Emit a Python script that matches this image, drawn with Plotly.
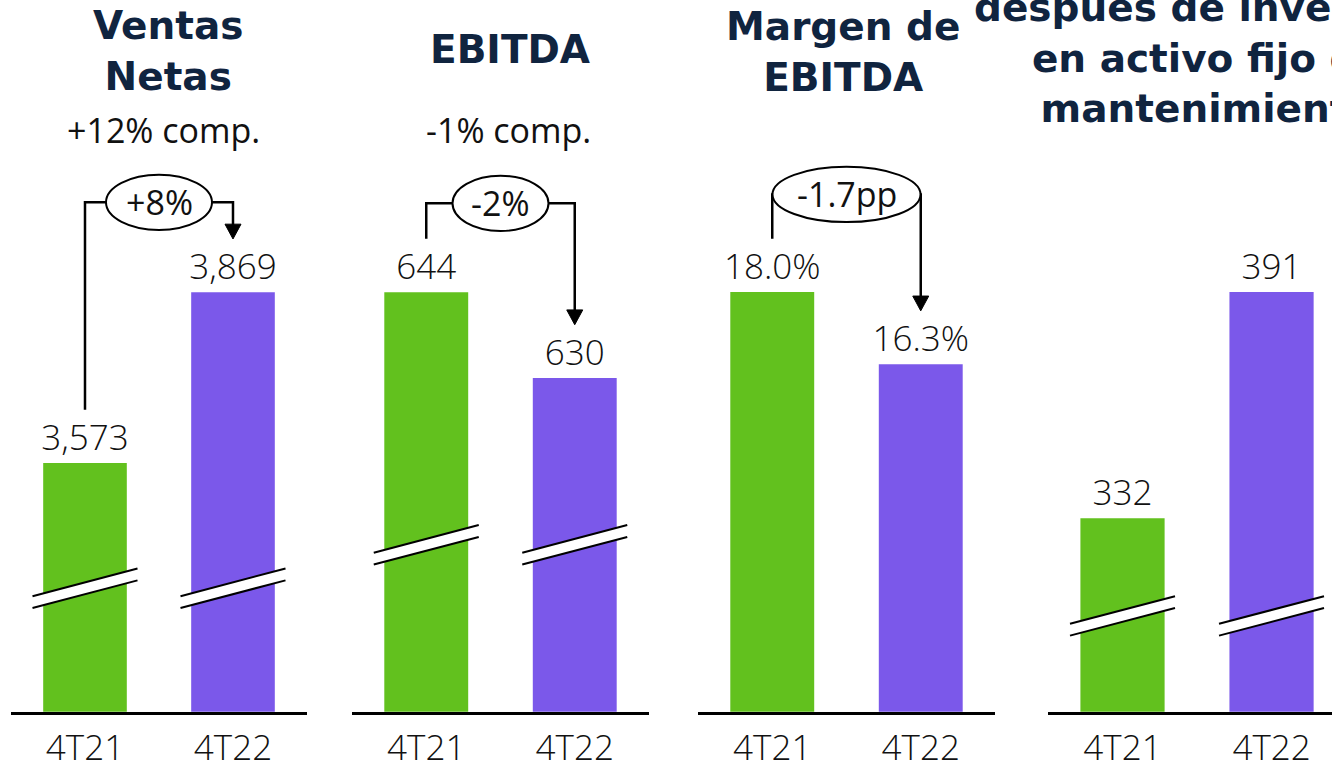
import plotly.graph_objects as go

# ---------------- data ----------------
periods = ["4T21", "4T22"]
titles = [
    "Ventas<br>Netas",
    "EBITDA",
    "Margen de<br>EBITDA",
    "después de inversión<br>en activo fijo de<br>mantenimiento",
]
subtitles = ["+12% comp.", "-1% comp.", "", ""]
ventas = [3573, 3869]
ebitda = [644, 630]
margen = [18.0, 16.3]
flujo = [332, 391]
changes = ["+8%", "-2%", "-1.7pp", None]

series = [ventas, ebitda, margen, flujo]
fmt = [lambda v: f"{v:,.0f}", lambda v: f"{v:,.0f}", lambda v: f"{v:.1f}%", lambda v: f"{v:,.0f}"]

# ---------------- style / layout ----------------
W, H = 1332, 770
GREEN = "#62C11E"
PURPLE = "#7B58EA"
NAVY = "#10243F"
TXT_FONT = "Open Sans"
TITLE_FONT = "DejaVu Sans"

panel_px = [(11, 307), (352, 649), (698, 995), (1048, 1332)]
x_ranges = [[-0.5, 1.5], [-0.5, 1.5], [-0.5, 1.5], [-0.5, 1.5 - 14 / 148.5]]
y_ranges = [[3142, 4119], [575.6, 667.5], [8.10, 21.40], [281.5, 428.6]]
PLOT_TOP, BASE = 150, 721

title_pos = [(168, 51.5), (510, 50), (843, 53), (1208, 59)]
sub_pos = [(163.5, 132), (508, 132), None, None]
bracket = [(205, 53), (206, 48), (197, 74), None]   # (top y px, ellipse half width)
breaks_y = [596, 552, None, 624]


def xpx(i, c):
    l, r = panel_px[i]
    a, b = x_ranges[i]
    return l + (c - a) / (b - a) * (r - l)


def ypx(i, v):
    a, b = y_ranges[i]
    return BASE - (v - a) / (b - a) * (BASE - PLOT_TOP)


def P(xp, yp):
    return f"{xp / W:.5f},{1 - yp / H:.5f}"


fig = go.Figure()
layout_axes = {}
shapes = []
annotations = []

for i in range(4):
    xa = "x" if i == 0 else f"x{i + 1}"
    ya = "y" if i == 0 else f"y{i + 1}"
    vals = series[i]
    fig.add_trace(go.Bar(
        x=[0, 1], y=vals, xaxis=xa, yaxis=ya,
        marker=dict(color=[GREEN, PURPLE], line=dict(width=0)),
        width=0.565,
        text=[fmt[i](v) for v in vals],
        textposition="outside", constraintext="none",
        textfont=dict(family=TXT_FONT, size=35, color="#111111", weight=300),
        showlegend=False, hoverinfo="skip",
    ))
    l, r = panel_px[i]
    layout_axes["xaxis" if i == 0 else f"xaxis{i + 1}"] = dict(
        domain=[l / W, r / W], range=x_ranges[i], anchor=ya,
        tickvals=[0, 1], ticktext=periods, showgrid=False, zeroline=False,
        showline=True, linecolor="black", linewidth=3, ticks="",
        ticklabelstandoff=3,
        tickfont=dict(family=TXT_FONT, size=35, color="#111111", weight=300),
        fixedrange=True,
    )
    layout_axes["yaxis" if i == 0 else f"yaxis{i + 1}"] = dict(
        domain=[1 - BASE / H, 1 - PLOT_TOP / H], range=y_ranges[i], anchor=xa,
        visible=False, fixedrange=True,
    )

    # title
    tx, ty = title_pos[i]
    annotations.append(dict(
        text=titles[i], x=tx / W, y=1 - ty / H, xref="paper", yref="paper",
        xanchor="center", yanchor="middle", showarrow=False, align="center",
        font=dict(family=TITLE_FONT, size=39, color=NAVY, weight="bold"),
    ))
    if subtitles[i]:
        sx, sy = sub_pos[i]
        annotations.append(dict(
            text=subtitles[i], x=sx / W, y=1 - sy / H, xref="paper", yref="paper",
            xanchor="center", yanchor="middle", showarrow=False,
            font=dict(family=TXT_FONT, size=34, color="#111111"),
        ))

    # axis breaks
    if breaks_y[i] is not None:
        cy = breaks_y[i]
        for c in (0, 1):
            cx = xpx(i, c)
            xl, xr = cx - 52.5, cx + 52.5
            t0, t1 = cy - 6 + 14, cy - 6 - 14
            b0, b1 = cy + 6 + 14, cy + 6 - 14
            shapes.append(dict(type="path", xref="paper", yref="paper",
                               path=f"M{P(xl, t0)} L{P(xr, t1)} L{P(xr, b1)} L{P(xl, b0)} Z",
                               fillcolor="white", line=dict(width=0)))
            shapes.append(dict(type="path", xref="paper", yref="paper",
                               path=f"M{P(xl, t0)} L{P(xr, t1)}",
                               line=dict(color="black", width=2)))
            shapes.append(dict(type="path", xref="paper", yref="paper",
                               path=f"M{P(xl, b0)} L{P(xr, b1)}",
                               line=dict(color="black", width=2)))

    # change bracket
    if bracket[i] is not None:
        top, rx = bracket[i]
        x0, x1 = xpx(i, 0), xpx(i, 1)
        mid = (x0 + x1) / 2
        y_start = ypx(i, vals[0]) - 54
        tip = ypx(i, vals[1]) - 54
        shapes.append(dict(type="path", xref="paper", yref="paper",
                           path=f"M{P(x0, y_start)} L{P(x0, top)} L{P(mid - rx, top)}",
                           line=dict(color="black", width=2.5)))
        shapes.append(dict(type="path", xref="paper", yref="paper",
                           path=f"M{P(mid + rx, top)} L{P(x1, top)} L{P(x1, tip - 13)}",
                           line=dict(color="black", width=2.5)))
        shapes.append(dict(type="path", xref="paper", yref="paper",
                           path=f"M{P(x1 - 8, tip - 15)} L{P(x1 + 8, tip - 15)} L{P(x1, tip)} Z",
                           fillcolor="black", line=dict(color="black", width=1)))
        shapes.append(dict(type="circle", xref="paper", yref="paper",
                           x0=(mid - rx) / W, x1=(mid + rx) / W,
                           y0=1 - (top + 28) / H, y1=1 - (top - 28) / H,
                           fillcolor="white", line=dict(color="black", width=2)))
        annotations.append(dict(
            text=changes[i], x=mid / W, y=1 - top / H, xref="paper", yref="paper",
            xanchor="center", yanchor="middle", showarrow=False,
            font=dict(family=TXT_FONT, size=34, color="#111111"),
        ))

fig.update_layout(
    width=W, height=H, autosize=False,
    margin=dict(l=0, r=0, t=0, b=0, pad=0),
    paper_bgcolor="white", plot_bgcolor="white",
    shapes=shapes, annotations=annotations,
    **layout_axes,
)

fig.write_html(
    "out.html",
    config={"displayModeBar": False},
    post_script="document.body.style.margin='0';document.body.style.overflow='hidden';",
)
